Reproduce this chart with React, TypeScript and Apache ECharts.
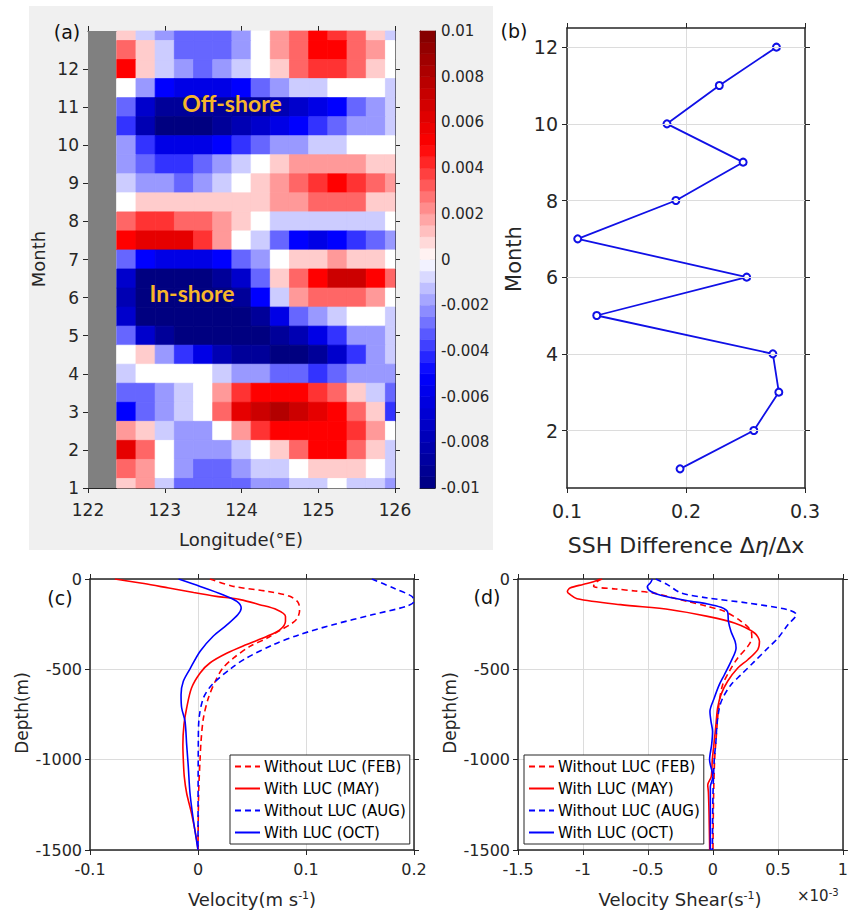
import React, { useEffect, useRef } from 'react';
import * as echarts from 'echarts';

// ---------- Panel (a): SSH anomaly contour (read on a 0.25° x 0.5-month grid) ----------
const MAP_LONS = [122.5, 122.75, 123, 123.25, 123.5, 123.75, 124, 124.25, 124.5, 124.75, 125, 125.25, 125.5, 125.75, 126];
const MAP_MONTHS = [13, 12.5, 12, 11.5, 11, 10.5, 10, 9.5, 9, 8.5, 8, 7.5, 7, 6.5, 6, 5.5, 5, 4.5, 4, 3.5, 3, 2.5, 2, 1.5, 1];
// values in units of 1e-3, rows follow MAP_MONTHS, columns follow MAP_LONS
const SSH_ANOM_E3 = [
  [1, -1, -2, -3, -3, -3, -2, 0, 2, 3, 5, 4, 3, 1, -1],
  [3, 1, -1, -3, -3, -3, -2, 0, 2, 3, 5, 5, 3, 2, 0],
  [5, 1, -1, -2, -3, -2, -1, 0, 1, 3, 4, 4, 3, 1, 0],
  [0, -2, -5, -6, -6, -6, -5, -3, -2, -1, -1, 0, 0, 0, -1],
  [-3, -7, -9, -9, -9, -9, -9, -9, -8, -7, -6, -5, -3, -2, -1],
  [-4, -8, -10, -10, -10, -9, -8, -7, -6, -5, -4, -3, -2, -2, -1],
  [-2, -4, -6, -6, -6, -5, -4, -3, -2, -2, -1, -1, 0, 0, 0],
  [-2, -3, -4, -4, -3, -2, -1, 0, 1, 2, 2, 2, 2, 1, 1],
  [-1, -2, -2, -3, -2, -1, 0, 1, 2, 3, 4, 5, 4, 3, 2],
  [0, 1, 1, 1, 1, 1, 1, 1, 2, 2, 3, 3, 3, 1, 1],
  [3, 4, 4, 3, 3, 2, 1, 0, -1, -1, -1, -1, -1, -1, 0],
  [5, 6, 6, 6, 4, 2, 0, -1, -3, -5, -6, -5, -4, -3, -2],
  [-3, -5, -6, -6, -6, -5, -3, -2, 0, 1, 1, 2, 1, 1, 0],
  [-7, -10, -10, -10, -10, -9, -7, -3, 1, 3, 5, 7, 7, 5, 3],
  [-8, -10, -10, -10, -10, -10, -9, -5, -1, 2, 3, 3, 3, 2, 0],
  [-7, -10, -10, -10, -10, -10, -10, -9, -6, -3, -2, -1, 0, 0, -1],
  [-3, -7, -9, -10, -10, -10, -10, -10, -9, -8, -6, -4, -2, -2, -1],
  [0, 1, -2, -4, -6, -8, -9, -9, -10, -10, -9, -7, -4, -2, -1],
  [-1, 0, 0, 0, 0, -1, -2, -2, -3, -3, -4, -3, -2, -2, -2],
  [-3, -3, -2, -1, 0, 2, 4, 5, 5, 5, 4, 3, 1, -1, -3],
  [-5, -3, -2, -1, 0, 3, 6, 7, 8, 7, 6, 5, 3, 1, -4],
  [2, 1, -1, -2, -2, 0, 2, 4, 5, 5, 5, 5, 4, 2, 0],
  [6, 3, 0, -2, -2, -2, -1, 0, 1, 3, 5, 5, 3, 1, -1],
  [3, 2, 0, -2, -3, -3, -2, -1, -1, 0, 1, 1, 1, 0, -1],
  [1, 2, -1, -3, -3, -3, -3, -2, -2, -1, -1, 0, -1, -1, -2],
];
const LAND_EDGE_LON = 122.37;
const MONTH_TICKS = [1, 2, 3, 4, 5, 6, 7, 8, 9, 10, 11, 12];

// ---------- Panel (b) ----------
const MONTHS = [1, 2, 3, 4, 5, 6, 7, 8, 9, 10, 11, 12];
const SSH_DIFF = [0.195, 0.257, 0.278, 0.273, 0.125, 0.251, 0.109, 0.1915, 0.248, 0.184, 0.228, 0.276];
const B_MONTH_TICKS = [2, 4, 6, 8, 10, 12];

// ---------- Panel (c): velocity profiles [depth (m), velocity (m/s)] ----------
const VEL_FEB = [[0, 0.011], [-41, 0.033], [-68, 0.064], [-96, 0.085], [-133, 0.093], [-179, 0.094], [-225, 0.091], [-253, 0.085], [-280, 0.077], [-327, 0.064], [-373, 0.048], [-437, 0.033], [-493, 0.023], [-566, 0.016], [-659, 0.0096], [-770, 0.005], [-899, 0.0028], [-1000, 0.0019], [-1186, 0.0006], [-1500, 0]];
const VEL_MAY = [[0, -0.077], [-25, -0.05], [-50, -0.027], [-75, -0.004], [-96, 0.017], [-114, 0.039], [-142, 0.057], [-170, 0.073], [-207, 0.081], [-234, 0.081], [-280, 0.076], [-317, 0.064], [-363, 0.045], [-410, 0.027], [-465, 0.011], [-520, 0.002], [-603, -0.006], [-714, -0.0105], [-806, -0.013], [-917, -0.014], [-1000, -0.0136], [-1094, -0.0127], [-1186, -0.0105], [-1297, -0.006], [-1444, -0.0012], [-1500, 0]];
const VEL_AUG = [[0, 0.161], [-50, 0.181], [-96, 0.198], [-124, 0.2], [-151, 0.193], [-197, 0.162], [-253, 0.125], [-308, 0.094], [-363, 0.07], [-437, 0.045], [-493, 0.031], [-585, 0.013], [-659, 0.005], [-770, 0.001], [-899, 0.0003], [-1500, 0]];
const VEL_OCT = [[0, -0.018], [-41, 0.002], [-87, 0.023], [-124, 0.036], [-161, 0.04], [-197, 0.037], [-253, 0.027], [-317, 0.014], [-400, 0.002], [-493, -0.007], [-566, -0.0136], [-640, -0.0157], [-714, -0.0151], [-788, -0.012], [-917, -0.0105], [-1038, -0.009], [-1186, -0.0074], [-1334, -0.0043], [-1500, 0]];

// ---------- Panel (d): velocity shear profiles [depth (m), shear (x1e-3 s^-1)] ----------
const SHEAR_FEB = [[0, -0.853], [-20, -0.905], [-40, -0.918], [-55, -0.75], [-66, -0.6], [-78, -0.454], [-100, -0.33], [-124, -0.196], [-150, -0.05], [-179, 0.088], [-234, 0.216], [-290, 0.294], [-327, 0.299], [-373, 0.268], [-437, 0.191], [-511, 0.126], [-585, 0.075], [-677, 0.049], [-770, 0.036], [-899, 0.023], [-1000, 0.013], [-1200, 0.005], [-1500, 0]];
const SHEAR_MAY = [[0, -0.866], [-15, -0.92], [-30, -1.0], [-50, -1.1], [-70, -1.12], [-85, -1.1], [-109, -1.046], [-142, -0.711], [-170, -0.325], [-207, -0.041], [-244, 0.165], [-299, 0.32], [-345, 0.358], [-391, 0.345], [-447, 0.268], [-493, 0.191], [-566, 0.113], [-640, 0.062], [-714, 0.036], [-806, 0.023], [-899, 0.01], [-1000, -0.005], [-1094, -0.013], [-1140, -0.04], [-1180, -0.035], [-1300, -0.03], [-1500, -0.025]];
const SHEAR_AUG = [[0, -0.44], [-31, -0.35], [-77, -0.247], [-105, -0.041], [-133, 0.268], [-170, 0.577], [-197, 0.642], [-253, 0.577], [-327, 0.5], [-382, 0.423], [-456, 0.32], [-530, 0.216], [-585, 0.139], [-659, 0.075], [-714, 0.049], [-806, 0.031], [-899, 0.023], [-1000, 0.01], [-1200, 0], [-1500, -0.005]];
const SHEAR_OCT = [[0, -0.466], [-20, -0.48], [-41, -0.505], [-68, -0.48], [-90, -0.402], [-120, -0.196], [-138, -0.04], [-157, 0.062], [-183, 0.113], [-234, 0.119], [-290, 0.139], [-345, 0.17], [-382, 0.178], [-456, 0.139], [-530, 0.088], [-585, 0.049], [-659, 0.01], [-733, -0.023], [-788, -0.015], [-843, -0.003], [-917, -0.01], [-1000, -0.026], [-1094, 0], [-1150, -0.02], [-1500, -0.02]];

const LEGEND_NAMES = ['Without LUC (FEB)', 'With LUC (MAY)', 'Without LUC (AUG)', 'With LUC (OCT)'];

// ---------- styling ----------
const FONT = "'DejaVu Sans', 'Liberation Sans', sans-serif";
const AX = '#262626';
const GRIDC = '#dcdcdc';
const RED = '#ff0000';
const BLUE = '#0000ff';
const CMAP_STOPS: [number, number[]][] = [
  [-0.01, [0, 0, 128]],
  [-0.005, [0, 0, 255]],
  [0, [255, 255, 255]],
  [0.005, [255, 0, 0]],
  [0.01, [128, 0, 0]],
];
const CB_MIN = -0.01, CB_MAX = 0.01, CB_STEP = 0.0005;

function colorAt(v: number) {
  const x = Math.max(CB_MIN, Math.min(CB_MAX, v));
  for (let i = 0; i < CMAP_STOPS.length - 1; i++) {
    const [a, ca] = CMAP_STOPS[i];
    const [b, cb] = CMAP_STOPS[i + 1];
    if (x >= a && x <= b) {
      const t = (x - a) / (b - a);
      const c = ca.map((u, k) => Math.round(u + (cb[k] - u) * t));
      return `rgb(${c[0]},${c[1]},${c[2]})`;
    }
  }
  return '#fff';
}

const mapData: number[][] = [];
SSH_ANOM_E3.forEach((row, r) => row.forEach((v, c) => mapData.push([MAP_LONS[c], MAP_MONTHS[r], v / 1000])));
const cbBands: number[][] = [];
for (let i = 0; i < Math.round((CB_MAX - CB_MIN) / CB_STEP); i++) {
  cbBands.push([0, CB_MIN + i * CB_STEP, CB_MIN + (i + 1) * CB_STEP]);
}

const flip = (arr: number[][]) => arr.map(([d, v]) => [v, d]);
const plain = (v: number) => String(v);

function axis(kind: 'x' | 'y', gridIndex: number, range: any, main: boolean, extra: any = {}) {
  const pos = kind === 'x' ? (main ? 'bottom' : 'top') : (main ? 'left' : 'right');
  return {
    type: 'value',
    gridIndex,
    position: pos,
    ...range,
    axisLine: { show: true, onZero: false, lineStyle: { color: AX, width: extra.lw || 1 } },
    axisTick: { show: extra.noTick ? false : true, length: 5, inside: !!extra.inside, lineStyle: { color: AX, width: 1 }, ...(extra.tickValues ? { customValues: extra.tickValues } : {}) },
    axisLabel: {
      show: main && !extra.noLabel,
      color: AX,
      fontFamily: FONT,
      fontSize: extra.fs || 15,
      margin: extra.margin ?? 8,
      formatter: plain,
      ...(extra.tickValues ? { customValues: extra.tickValues } : {}),
    },
    splitLine: { show: !!(main && extra.split), lineStyle: { color: GRIDC, width: 1 } },
  };
}

export default function App() {
  const ref = useRef<HTMLDivElement>(null);
  useEffect(() => {
    if (!ref.current) return;
    const chart = echarts.init(ref.current, null, { renderer: 'svg' });

    const rA = { min: 122, max: 126, interval: 1 };
    const rAy = { min: 1, max: 13, interval: 1 };
    const rCB = { min: CB_MIN, max: CB_MAX, interval: 0.002 };
    const rBx = { min: 0.1, max: 0.3, interval: 0.1 };
    const rBy = { min: 0.5, max: 12.5, interval: 1 };
    const rCx = { min: -0.1, max: 0.2, interval: 0.1 };
    const rDepth = { min: -1500, max: 0, interval: 500 };
    const rDx = { min: -1.5, max: 1, interval: 0.5 };

    const lineSeries = (name: string, data: number[][], color: string, dashed: boolean, xi: number, yi: number) => ({
      type: 'line', name, data, xAxisIndex: xi, yAxisIndex: yi, smooth: 0.3, symbol: 'none', showSymbol: false, clip: true,
      lineStyle: { color, width: 1.6, type: dashed ? [6, 4] : 'solid' }, itemStyle: { color }, z: 3,
    });

    const legendCommon = {
      orient: 'vertical', itemWidth: 25, itemHeight: 14, itemGap: 7, padding: [4, 4, 4, 4],
      backgroundColor: '#fff', borderColor: AX, borderWidth: 1, borderRadius: 0,
      itemStyle: { opacity: 0, borderWidth: 0 },
      textStyle: { fontFamily: FONT, fontSize: 15, color: '#000', padding: [0, 0, 0, -1] },
      data: LEGEND_NAMES, selectedMode: false,
    };

    const option: any = {
      animation: false,
      backgroundColor: '#fff',
      grid: [
        { left: 88, top: 31, width: 307, height: 457 },
        { left: 420, top: 31, width: 15, height: 457 },
        { left: 567, top: 28, width: 238, height: 460 },
        { left: 90, top: 579, width: 324, height: 271 },
        { left: 518, top: 579, width: 325, height: 271 },
      ],
      xAxis: [
        axis('x', 0, rA, true, { fs: 17, margin: 13 }),
        axis('x', 0, rA, false),
        axis('x', 1, { min: 0, max: 1 }, true, { noTick: true, noLabel: true }),
        axis('x', 1, { min: 0, max: 1 }, false, { noTick: true }),
        axis('x', 2, rBx, true, { fs: 19, margin: 13, split: true, lw: 1.5 }),
        axis('x', 2, rBx, false, { lw: 1.5 }),
        axis('x', 3, rCx, true, { fs: 16, margin: 11, split: true, lw: 1.5 }),
        axis('x', 3, rCx, false, { lw: 1.5 }),
        axis('x', 4, rDx, true, { fs: 16, margin: 11, split: true, lw: 1.5 }),
        axis('x', 4, rDx, false, { lw: 1.5 }),
      ],
      yAxis: [
        axis('y', 0, rAy, true, { fs: 17, margin: 9, tickValues: MONTH_TICKS }),
        axis('y', 0, rAy, false, { tickValues: MONTH_TICKS }),
        axis('y', 1, rCB, true, { noTick: true, noLabel: true }),
        { ...axis('y', 1, rCB, true, { fs: 15, margin: 6, inside: true }), position: 'right' },
        axis('y', 2, rBy, true, { fs: 19, margin: 9, tickValues: B_MONTH_TICKS, lw: 1.5 }),
        axis('y', 2, rBy, false, { tickValues: B_MONTH_TICKS, lw: 1.5 }),
        axis('y', 3, rDepth, true, { fs: 16, margin: 8, split: true, lw: 1.5 }),
        axis('y', 3, rDepth, false, { lw: 1.5 }),
        axis('y', 4, rDepth, true, { fs: 16, margin: 8, split: true, lw: 1.5 }),
        axis('y', 4, rDepth, false, { lw: 1.5 }),
      ],
      legend: [
        { ...legendCommon, left: 230, top: 755 },
        { ...legendCommon, left: 524, top: 755 },
      ],
      series: [
        {
          type: 'custom', xAxisIndex: 0, yAxisIndex: 0, data: [[122, LAND_EDGE_LON]], encode: { x: [0, 1] }, z: 1,
          renderItem: (p: any, api: any) => {
            const a = api.coord([api.value(0), rAy.max]);
            const b = api.coord([api.value(1), rAy.min]);
            return { type: 'rect', shape: { x: a[0], y: a[1], width: b[0] - a[0], height: b[1] - a[1] }, style: { fill: '#808080' } };
          },
        },
        {
          type: 'custom', xAxisIndex: 0, yAxisIndex: 0, data: mapData, encode: { x: 0, y: 1 }, z: 1,
          renderItem: (p: any, api: any) => {
            const lon = api.value(0), m = api.value(1), v = api.value(2);
            const xa = Math.max(lon - 0.125, LAND_EDGE_LON), xb = Math.min(lon + 0.125, rA.max);
            const ya = Math.max(m - 0.25, rAy.min), yb = Math.min(m + 0.25, rAy.max);
            const p0 = api.coord([xa, yb]);
            const p1 = api.coord([xb, ya]);
            const c = colorAt(v);
            return { type: 'rect', shape: { x: p0[0], y: p0[1], width: p1[0] - p0[0], height: p1[1] - p0[1] }, style: { fill: c, stroke: c, lineWidth: 0.8 } };
          },
        },
        {
          type: 'custom', xAxisIndex: 2, yAxisIndex: 3, data: cbBands, encode: { x: 0, y: [1, 2] }, z: 1,
          renderItem: (p: any, api: any) => {
            const lo = api.value(1), hi = api.value(2);
            const p0 = api.coord([0, hi]);
            const p1 = api.coord([1, lo]);
            const c = colorAt((lo + hi) / 2);
            return { type: 'rect', shape: { x: p0[0], y: p0[1], width: p1[0] - p0[0], height: p1[1] - p0[1] }, style: { fill: c, stroke: c, lineWidth: 0.6 } };
          },
        },
        {
          type: 'line', xAxisIndex: 4, yAxisIndex: 4, data: SSH_DIFF.map((v, i) => [v, MONTHS[i]]), symbol: 'none',
          lineStyle: { opacity: 0 }, z: 1, silent: true,
          markLine: {
            silent: true, symbol: 'none', label: { show: false }, animation: false,
            lineStyle: { color: GRIDC, type: 'solid', width: 1 },
            data: B_MONTH_TICKS.map((v) => ({ yAxis: v })),
          },
        },
        {
          type: 'line', name: 'SSH', xAxisIndex: 4, yAxisIndex: 4, data: SSH_DIFF.map((v, i) => [v, MONTHS[i]]),
          symbol: 'emptyCircle', symbolSize: 7, showSymbol: true, z: 3,
          lineStyle: { color: '#1010e6', width: 1.8 },
          itemStyle: { color: '#1010e6', borderColor: '#1010e6', borderWidth: 1.6 },
        },
        lineSeries(LEGEND_NAMES[0], flip(VEL_FEB), RED, true, 6, 6),
        lineSeries(LEGEND_NAMES[1], flip(VEL_MAY), RED, false, 6, 6),
        lineSeries(LEGEND_NAMES[2], flip(VEL_AUG), BLUE, true, 6, 6),
        lineSeries(LEGEND_NAMES[3], flip(VEL_OCT), BLUE, false, 6, 6),
        lineSeries(LEGEND_NAMES[0], flip(SHEAR_FEB), RED, true, 8, 8),
        lineSeries(LEGEND_NAMES[1], flip(SHEAR_MAY), RED, false, 8, 8),
        lineSeries(LEGEND_NAMES[2], flip(SHEAR_AUG), BLUE, true, 8, 8),
        lineSeries(LEGEND_NAMES[3], flip(SHEAR_OCT), BLUE, false, 8, 8),
      ],
      graphic: [
        { type: 'rect', z: -10, shape: { x: 29, y: 6, width: 464, height: 544 }, style: { fill: '#f0f0f0' } },
        { type: 'text', z: 50, x: 232, y: 103, style: { text: 'Off-shore', font: "bold 23px Lato, 'Open Sans', sans-serif", fill: '#f7b52a', align: 'center', verticalAlign: 'middle' } },
        { type: 'text', z: 50, x: 192, y: 293, style: { text: 'In-shore', font: "bold 23px Lato, 'Open Sans', sans-serif", fill: '#f7b52a', align: 'center', verticalAlign: 'middle' } },
        { type: 'text', z: 50, x: 67, y: 32, style: { text: '(a)', fontFamily: FONT, fontSize: 19, fill: '#111', align: 'center', verticalAlign: 'middle' } },
        { type: 'text', z: 50, x: 514, y: 31, style: { text: '(b)', fontFamily: FONT, fontSize: 19, fill: '#111', align: 'center', verticalAlign: 'middle' } },
        { type: 'text', z: 50, x: 60, y: 598, style: { text: '(c)', fontFamily: FONT, fontSize: 19, fill: '#111', align: 'center', verticalAlign: 'middle' } },
        { type: 'text', z: 50, x: 487, y: 597, style: { text: '(d)', fontFamily: FONT, fontSize: 19, fill: '#111', align: 'center', verticalAlign: 'middle' } },
        { type: 'text', z: 50, x: 241, y: 539, style: { text: 'Longitude(°E)', fontFamily: FONT, fontSize: 18, fill: AX, align: 'center', verticalAlign: 'middle' } },
        { type: 'text', z: 50, x: 38, y: 259, rotation: Math.PI / 2, style: { text: 'Month', fontFamily: FONT, fontSize: 18, fill: AX, align: 'center', verticalAlign: 'middle' } },
        { type: 'text', z: 50, x: 514, y: 259, rotation: Math.PI / 2, style: { text: 'Month', fontFamily: FONT, fontSize: 21, fill: AX, align: 'center', verticalAlign: 'middle' } },
        {
          type: 'text', z: 50, x: 686, y: 545,
          style: {
            text: 'SSH Difference Δ{i|η}/Δx', fontFamily: FONT, fontSize: 22, fill: AX, align: 'center', verticalAlign: 'middle',
            rich: { i: { fontFamily: FONT, fontSize: 22, fontStyle: 'italic', fill: AX } },
          },
        },
        { type: 'text', z: 50, x: 22, y: 713, rotation: Math.PI / 2, style: { text: 'Depth(m)', fontFamily: FONT, fontSize: 17, fill: AX, align: 'center', verticalAlign: 'middle' } },
        { type: 'text', z: 50, x: 450, y: 713, rotation: Math.PI / 2, style: { text: 'Depth(m)', fontFamily: FONT, fontSize: 17, fill: AX, align: 'center', verticalAlign: 'middle' } },
        {
          type: 'text', z: 50, x: 252, y: 899,
          style: {
            text: 'Velocity(m s{s|-1})', fontFamily: FONT, fontSize: 18, fill: AX, align: 'center', verticalAlign: 'middle',
            rich: { s: { fontFamily: FONT, fontSize: 11, fill: AX, verticalAlign: 'top', padding: [0, 0, 8, 0] } },
          },
        },
        {
          type: 'text', z: 50, x: 680, y: 899,
          style: {
            text: 'Velocity Shear(s{s|-1})', fontFamily: FONT, fontSize: 18, fill: AX, align: 'center', verticalAlign: 'middle',
            rich: { s: { fontFamily: FONT, fontSize: 11, fill: AX, verticalAlign: 'top', padding: [0, 0, 8, 0] } },
          },
        },
        {
          type: 'text', z: 50, x: 797, y: 896,
          style: {
            text: '×10{s|-3}', fontFamily: FONT, fontSize: 15, fill: AX, align: 'left', verticalAlign: 'middle',
            rich: { s: { fontFamily: FONT, fontSize: 10, fill: AX, verticalAlign: 'top', padding: [0, 0, 8, 0] } },
          },
        },
      ],
    };
    chart.setOption(option);
    return () => chart.dispose();
  }, []);
  return <div ref={ref} style={{ position: 'absolute', left: 0, top: 0, width: 851, height: 913 }} />;
}
